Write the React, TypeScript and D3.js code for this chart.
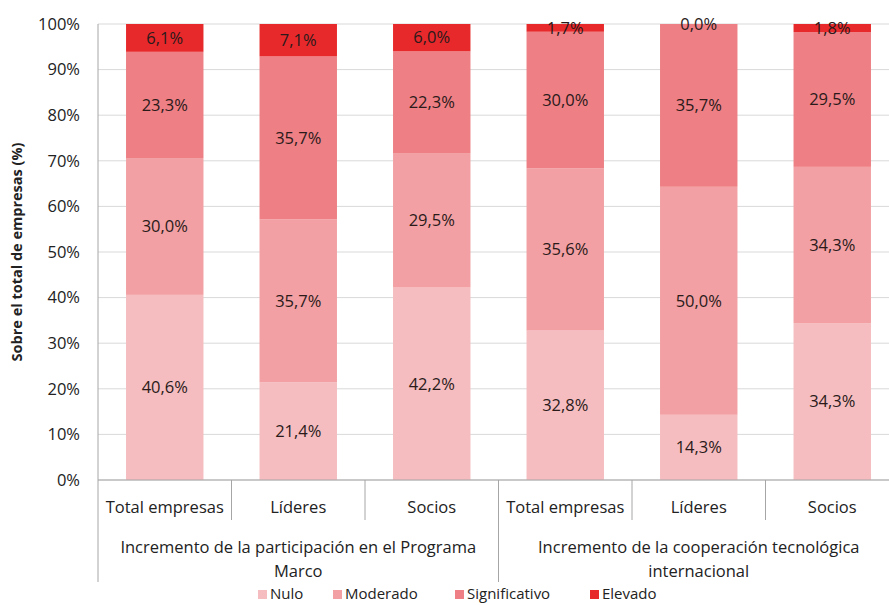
import React from 'react';
import * as d3 from 'd3';

const categories = ['Total empresas', 'Líderes', 'Socios', 'Total empresas', 'Líderes', 'Socios'];
const groups = [
  ['Incremento de la participación en el Programa', 'Marco'],
  ['Incremento de la cooperación tecnológica', 'internacional'],
];
const seriesNames = ['Nulo', 'Moderado', 'Significativo', 'Elevado'];
const nulo = [40.6, 21.4, 42.2, 32.8, 14.3, 34.3];
const moderado = [30.0, 35.7, 29.5, 35.6, 50.0, 34.3];
const significativo = [23.3, 35.7, 22.3, 30.0, 35.7, 29.5];
const elevado = [6.1, 7.1, 6.0, 1.7, 0.0, 1.8];
const yTicks = [0, 0.1, 0.2, 0.3, 0.4, 0.5, 0.6, 0.7, 0.8, 0.9, 1];

const colors = ['#f5bdbf', '#f2a0a3', '#ee7f84', '#e8292c'];
const font = '"Open Sans", Lato, sans-serif';

export default function App() {
  const w = 889, h = 605;
  const p = { top: 24, left: 98, right: -10, bottom: 125 };

  const rows = categories.map((c, i) => ({
    i,
    Nulo: nulo[i],
    Moderado: moderado[i],
    Significativo: significativo[i],
    Elevado: elevado[i],
  }));
  const stack = d3.stack().keys(seriesNames).offset(d3.stackOffsetExpand);
  const layers = stack(rows);

  const x = d3.scaleBand().domain(d3.range(categories.length).map(String))
    .range([p.left, w - p.right]).paddingInner(0.42).paddingOuter(0.21);
  const y = d3.scaleLinear().domain([0, 1]).range([h - p.bottom, p.top]);
  const fmt = (v) => v.toFixed(1).replace('.', ',') + '%';
  const catW = (w - p.right - p.left) / categories.length;
  const bandLeft = (i) => p.left + i * catW;

  return (
    <svg width={w} height={h} style={{ display: 'block', position: 'absolute', left: 0, top: 0 }}>
      <rect width={w} height={h} fill="#fff" />
      {yTicks.map(t => (
        <g key={t}>
          <line x1={p.left} x2={w} y1={y(t)} y2={y(t)} stroke="#d9d9d9" strokeWidth={1} />
          <text x={80} y={y(t)} dy="0.35em" textAnchor="end" fontFamily={font} fontSize={16.5} fill="#222">
            {Math.round(t * 100)}%
          </text>
        </g>
      ))}
      <text transform={`translate(22,${(y(0) + y(1)) / 2}) rotate(-90)`} textAnchor="middle"
        fontFamily={font} fontSize={14.5} fontWeight="bold" fill="#222">
        Sobre el total de empresas (%)
      </text>
      {layers.map((layer, li) => (
        <g key={layer.key} fill={colors[li]}>
          {layer.map((d, i) => (
            <rect key={i} x={x(String(i))} width={x.bandwidth()} y={y(d[1])} height={y(d[0]) - y(d[1])} />
          ))}
        </g>
      ))}
      {layers.map((layer) => (
        <g key={'l' + layer.key}>
          {layer.map((d, i) => (
            <text key={i} x={x(String(i)) + x.bandwidth() / 2} y={y((d[0] + d[1]) / 2)} dy="0.35em"
              textAnchor="middle" fontFamily={font} fontSize={16.5} fill="#2a1a1a">
              {fmt(rows[i][layer.key])}
            </text>
          ))}
        </g>
      ))}
      <line x1={p.left} x2={p.left} y1={y(1)} y2={582} stroke="#a6a6a6" />
      <line x1={p.left} x2={w} y1={y(0)} y2={y(0)} stroke="#a6a6a6" />
      {categories.map((c, i) => (
        <g key={'c' + i}>
          {i > 0 && (
            <line x1={bandLeft(i)} x2={bandLeft(i)} y1={y(0)} y2={i % 3 === 0 ? 582 : 520} stroke="#a6a6a6" />
          )}
          <text x={bandLeft(i) + catW / 2} y={507} dy="0.35em" textAnchor="middle" fontFamily={font} fontSize={16.5} fill="#222">
            {c}
          </text>
        </g>
      ))}
      {groups.map((g, gi) => (
        <text key={'g' + gi} textAnchor="middle" fontFamily={font} fontSize={16.5} fill="#222">
          {g.map((line, li) => (
            <tspan key={li} x={bandLeft(gi * 3) + catW * 1.5} y={547 + li * 24} dy="0.35em">{line}</tspan>
          ))}
        </text>
      ))}
      {seriesNames.map((s, i) => {
        const lx = [258, 333, 455, 590][i];
        return (
          <g key={'lg' + s}>
            <rect x={lx} y={590} width={9} height={9} fill={colors[i]} />
            <text x={lx + 12} y={594} dy="0.35em" fontFamily={font} fontSize={15} fill="#222">{s}</text>
          </g>
        );
      })}
    </svg>
  );
}
